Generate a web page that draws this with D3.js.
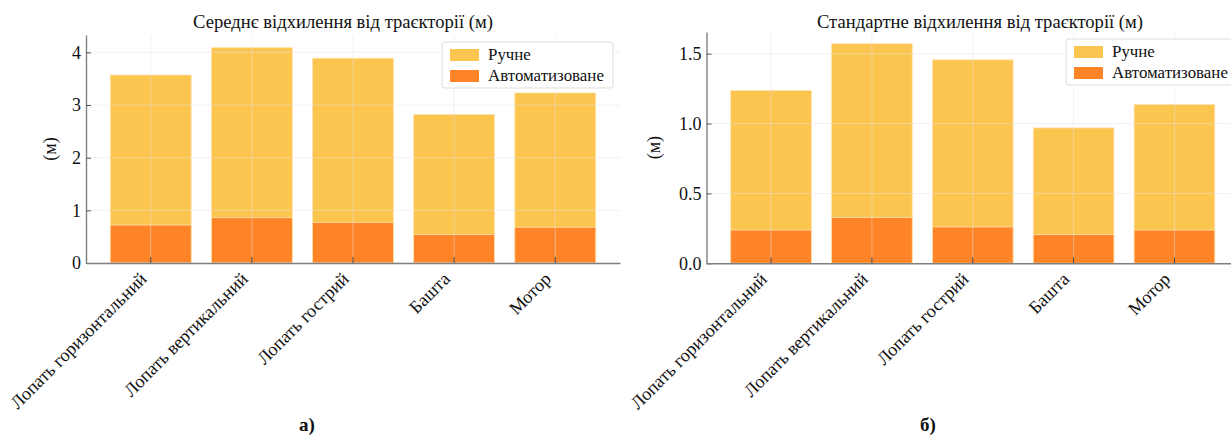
<!DOCTYPE html>
<html>
<head>
<meta charset="utf-8">
<script src="https://cdn.jsdelivr.net/npm/d3@7"></script>
<style>
  body { margin: 0; background: #fff; }
  svg { font-family: "Liberation Serif", "DejaVu Serif", serif; }
</style>
</head>
<body>
<div id="chart"></div>
<script>
const categories = ["Лопать горизонтальний", "Лопать вертикальний", "Лопать гострий", "Башта", "Мотор"];
const seriesNames = ["Ручне", "Автоматизоване"];

// середнє відхилення (м)
const manualMean = [3.57, 4.09, 3.89, 2.82, 3.23];
const autoMean = [0.72, 0.86, 0.77, 0.54, 0.68];
const meanTicks = [0, 1, 2, 3, 4];

// стандартне відхилення (м)
const manualStd = [1.236, 1.571, 1.456, 0.969, 1.136];
const autoStd = [0.238, 0.327, 0.26, 0.205, 0.238];
const stdTicks = [0, 0.5, 1.0, 1.5];

const colors = ["#fcc54f", "#fe8427"];

const svg = d3.select("#chart")
  .append("svg")
  .attr("width", 1231)
  .attr("height", 437);

// pick a font size so that a sample string gets the wanted width
function fitSize(sample, targetWidth) {
  const t = svg.append("text").attr("font-size", 100).text(sample);
  const w = t.node().getComputedTextLength();
  t.remove();
  return 100 * targetWidth / w;
}

const titleSize = fitSize("Середнє відхилення від траєкторії (м)", 300);
const legendSize = fitSize("Автоматизоване", 116);
const xLabelSize = fitSize("Лопать горизонтальний", 184);
const tickSize = 18;

function drawPanel(opts) {
  const { left, right, top, bottom, yMax, ticks, tickFmt, manual, auto, title, titleX, letter, letterX, legendX, legendY, ylabelX } = opts;

  const x = d3.scaleBand()
    .domain(categories)
    .range([left, right])
    .paddingInner(0.2)
    .paddingOuter(0.24);

  const y = d3.scaleLinear()
    .domain([0, yMax])
    .range([bottom, top]);

  const g = svg.append("g");

  // bars: manual first, automated on top
  [manual, auto].forEach((vals, si) => {
    g.selectAll(".bar" + si)
      .data(vals)
      .join("rect")
      .attr("class", "bar" + si)
      .attr("x", (d, i) => x(categories[i]))
      .attr("y", d => y(d))
      .attr("width", x.bandwidth())
      .attr("height", d => y(0) - y(d))
      .attr("fill", colors[si])
      .attr("stroke", "#ffe3b0")
      .attr("stroke-width", 0.8);
  });

  // grid, light, over the bars
  g.append("g")
    .selectAll("line")
    .data(ticks)
    .join("line")
    .attr("x1", left).attr("x2", right)
    .attr("y1", d => y(d)).attr("y2", d => y(d))
    .attr("stroke", "#e4e4e4")
    .attr("stroke-opacity", 0.6)
    .attr("stroke-width", 0.8);
  g.append("g")
    .selectAll("line")
    .data(categories)
    .join("line")
    .attr("x1", d => x(d) + x.bandwidth() / 2).attr("x2", d => x(d) + x.bandwidth() / 2)
    .attr("y1", top).attr("y2", bottom)
    .attr("stroke", "#e4e4e4")
    .attr("stroke-opacity", 0.6)
    .attr("stroke-width", 0.8);

  // y axis
  const yAxis = d3.axisLeft(y)
    .tickValues(ticks)
    .tickFormat(tickFmt)
    .tickSizeInner(-5)
    .tickSizeOuter(0)
    .tickPadding(5);
  const yg = g.append("g")
    .attr("transform", `translate(${left},0)`)
    .call(yAxis);
  yg.select(".domain").attr("stroke", "#808080").attr("stroke-width", 1.4);
  yg.selectAll(".tick line").attr("stroke", "#555");
  yg.selectAll("text").attr("font-size", tickSize).attr("fill", "#111").attr("font-family", "Liberation Serif");

  // x axis
  const xAxis = d3.axisBottom(x)
    .tickSizeInner(-6)
    .tickSizeOuter(0);
  const xg = g.append("g")
    .attr("transform", `translate(0,${bottom})`)
    .call(xAxis);
  xg.select(".domain").attr("stroke", "#808080").attr("stroke-width", 1.4);
  xg.selectAll(".tick line").attr("stroke", "#444");
  xg.selectAll("text")
    .attr("font-size", xLabelSize)
    .attr("fill", "#111")
    .attr("font-family", "Liberation Serif")
    .attr("text-anchor", "end")
    .attr("y", 0)
    .attr("dy", 0)
    .attr("transform", "translate(-3,17) rotate(-45)");

  // y label
  g.append("text")
    .attr("transform", `translate(${ylabelX},${(top + bottom) / 2}) rotate(-90)`)
    .attr("text-anchor", "middle")
    .attr("font-size", tickSize)
    .attr("fill", "#111")
    .text("(м)");

  // title
  g.append("text")
    .attr("x", titleX)
    .attr("y", 28)
    .attr("text-anchor", "middle")
    .attr("font-size", titleSize)
    .attr("fill", "#111")
    .text(title);

  // legend
  const lg = g.append("g").attr("transform", `translate(${legendX},${legendY})`);
  lg.append("rect")
    .attr("width", 171).attr("height", 46)
    .attr("rx", 3)
    .attr("fill", "#fff")
    .attr("fill-opacity", 0.85)
    .attr("stroke", "#dddddd");
  seriesNames.forEach((name, i) => {
    lg.append("rect")
      .attr("x", 8).attr("y", 7 + i * 21)
      .attr("width", 29).attr("height", 12)
      .attr("fill", colors[i]);
    lg.append("text")
      .attr("x", 46).attr("y", 18 + i * 21)
      .attr("font-size", legendSize)
      .attr("fill", "#111")
      .text(name);
  });

  // panel letter
  g.append("text")
    .attr("x", letterX)
    .attr("y", 431)
    .attr("text-anchor", "middle")
    .attr("font-size", 19)
    .attr("font-weight", "bold")
    .attr("fill", "#111")
    .text(letter);
}

drawPanel({
  left: 86, right: 620, top: 35, bottom: 263,
  yMax: 4.33, ticks: meanTicks, tickFmt: d3.format("d"),
  manual: manualMean, auto: autoMean,
  title: "Середнє відхилення від траєкторії (м)", titleX: 343,
  letter: "а)", letterX: 307,
  legendX: 442, legendY: 42, ylabelX: 56
});

drawPanel({
  left: 706.5, right: 1239, top: 32, bottom: 263.3,
  yMax: 1.655, ticks: stdTicks, tickFmt: d3.format(".1f"),
  manual: manualStd, auto: autoStd,
  title: "Стандартне відхилення від траєкторії (м)", titleX: 980,
  letter: "б)", letterX: 928,
  legendX: 1066, legendY: 39, ylabelX: 660
});
</script>
</body>
</html>
